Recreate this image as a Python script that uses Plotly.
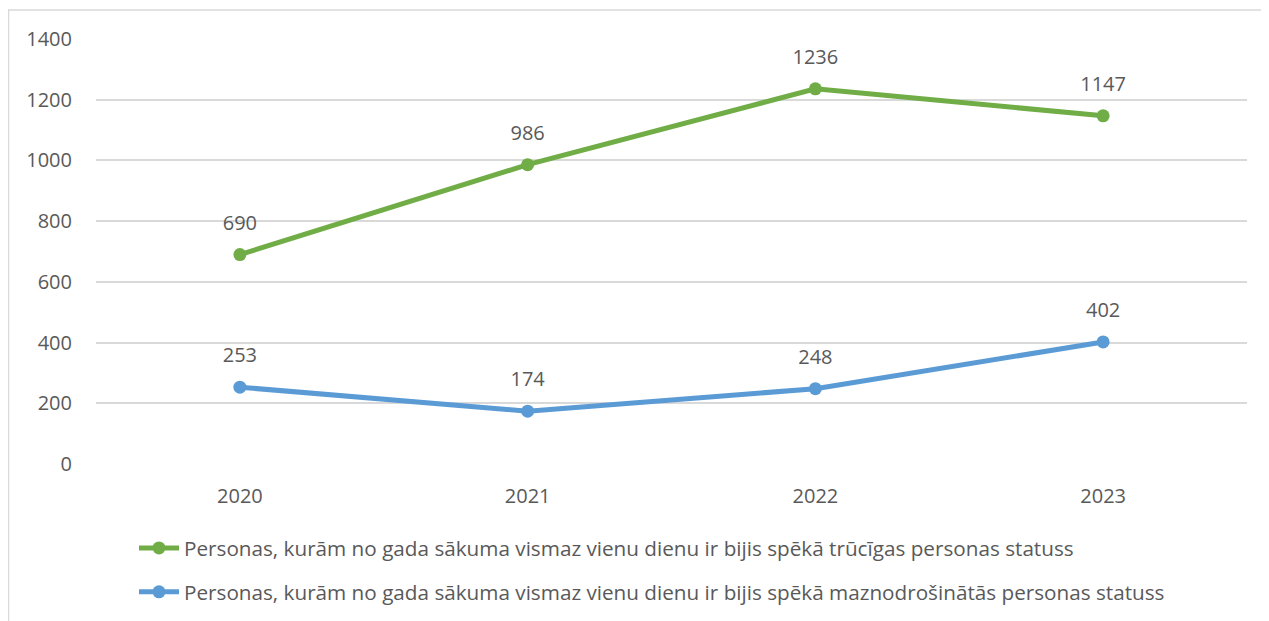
import plotly.graph_objects as go

years = ["2020", "2021", "2022", "2023"]
trucigas = [690, 986, 1236, 1147]
maznodrosinatas = [253, 174, 248, 402]
names = [
    "Personas, kurām no gada sākuma vismaz vienu dienu ir bijis spēkā trūcīgas personas statuss",
    "Personas, kurām no gada sākuma vismaz vienu dienu ir bijis spēkā maznodrošinātās personas statuss",
]
y_ticks = [0, 200, 400, 600, 800, 1000, 1200, 1400]

green = "#70AD47"
blue = "#5B9BD5"
txt = "#595959"
font_family = "Open Sans, sans-serif"
fs = 20

fig = go.Figure()
for vals, name, col in [(trucigas, names[0], green), (maznodrosinatas, names[1], blue)]:
    fig.add_trace(go.Scatter(
        x=years, y=vals, name=name, mode="lines+markers",
        line=dict(color=col, width=5),
        marker=dict(color=col, size=13),
        legendgroup=name,
    ))

# datu etiķetes virs punktiem (neredzami marķieri nobīdei)
for vals in (trucigas, maznodrosinatas):
    fig.add_trace(go.Scatter(
        x=years, y=vals, mode="markers+text", text=[str(v) for v in vals],
        textposition="top center", textfont=dict(size=fs, color=txt),
        marker=dict(size=30, opacity=0), showlegend=False, hoverinfo="skip",
        cliponaxis=False,
    ))

W, H, L, R, T, B = 1261, 613, 88, 22, 31, 157
pw = W - L - R
ph = H - T - B

fig.update_layout(
    width=W, height=H,
    margin=dict(l=L, r=R, t=T, b=B, autoexpand=False),
    plot_bgcolor="white", paper_bgcolor="white",
    font=dict(family=font_family, size=fs, color=txt),
    showlegend=True,
    # rāmis ap diagrammu
    shapes=[dict(type="rect", xref="paper", yref="paper",
                 x0=(0.5 - L) / pw, x1=(1300 - L) / pw,
                 y0=(ph + T - 640) / ph, y1=(ph + T - 2) / ph,
                 line=dict(color="#D9D9D9", width=1.5), layer="below")],
    legend=dict(orientation="v", x=(126 - L) / pw, xanchor="left",
                y=(ph + T - 520) / ph, yanchor="top", tracegroupgap=14,
                font=dict(size=20.7, color=txt), itemwidth=40),
)
fig.update_xaxes(type="category", range=[-0.5, 3.5], showgrid=False,
                 showline=False, ticks="", ticklabelstandoff=18,
                 tickfont=dict(size=fs, color=txt))
fig.update_yaxes(range=[0, 1400], tickvals=y_ticks, showgrid=True,
                 gridcolor="#D9D9D9", gridwidth=1.5, zeroline=False,
                 showline=False, ticks="", ticklabelstandoff=23,
                 tickfont=dict(size=fs, color=txt))

fig.write_html("out.html")
